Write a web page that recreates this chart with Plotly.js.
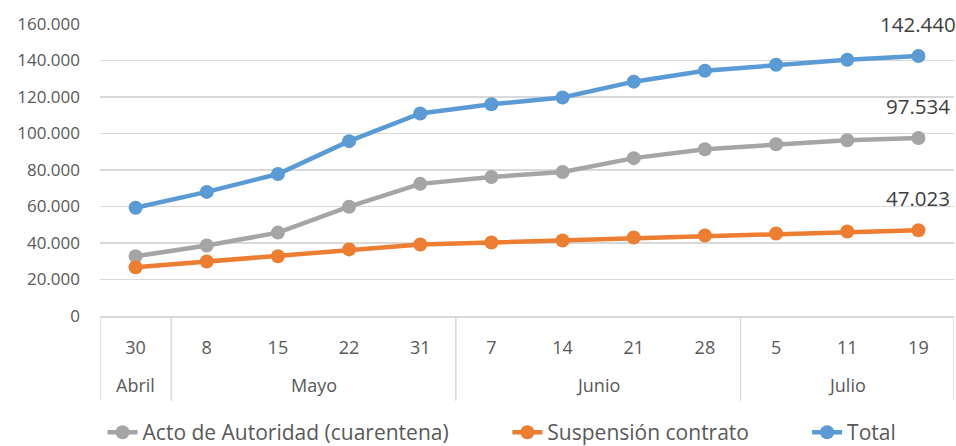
<!DOCTYPE html>
<html><head><meta charset="utf-8">
<script src="https://cdn.plot.ly/plotly-3.0.1.min.js"></script>
<style>html,body{margin:0;padding:0;background:#fff}#chart{width:956px;height:446px}</style>
</head><body><div id="chart"></div><script>
const months = ['Abril','Mayo','Mayo','Mayo','Mayo','Junio','Junio','Junio','Junio','Julio','Julio','Julio'];
const days = ['30','8','15','22','31','7','14','21','28','5','11','19'];
const acto = [32700, 38600, 45700, 59900, 72400, 76200, 78900, 86500, 91400, 94100, 96300, 97534];
const suspension = [26700, 29900, 32700, 36500, 39200, 40300, 41400, 43000, 44100, 45200, 46300, 47023];
const total = [59300, 68000, 77800, 95800, 111000, 116000, 119700, 128400, 134400, 137700, 140400, 142440];
const names = ['Acto de Autoridad (cuarentena)', 'Suspensión contrato', 'Total'];
const colors = ['#A5A5A5', '#ED7D31', '#5B9BD5'];

const FONT = 'Open Sans, Noto Sans, sans-serif';
const TXT = '#595959';
const GRID = '#D9D9D9';
const series = [acto, suspension, total];
const legendIds = ['legend', 'legend2', 'legend3'];
const legendX = [0.003, 0.477, 0.828];
const traces = series.map((s, i) => ({
  type: 'scatter', mode: 'lines+markers', name: names[i],
  x: days, y: s, legend: legendIds[i],
  line: {color: colors[i], width: 4.5},
  marker: {color: colors[i], size: 14},
  cliponaxis: false
}));

function fmt(v){ return Math.round(v).toString().replace(/\B(?=(\d{3})+(?!\d))/g, '.'); }
const last = days.length - 1;
const annotations = series.map((s, i) => ({
  x: last, y: s[last], xref: 'x', yref: 'y',
  text: fmt(s[last]), showarrow: false, yshift: 32, xshift: 0,
  font: {family: FONT, size: 20.5, color: '#404040'}
}));

// month groups (from months array)
const groups = [];
months.forEach((m, i) => {
  if (!groups.length || groups[groups.length - 1].name !== m) groups.push({name: m, start: i, end: i});
  else groups[groups.length - 1].end = i;
});
const DIV_BOTTOM = -0.29;
const shapes = [];
groups.forEach((g, k) => {
  annotations.push({
    x: (g.start + g.end) / 2, xref: 'x', y: -0.235, yref: 'paper', yanchor: 'middle',
    text: g.name, showarrow: false, font: {family: FONT, size: 18, color: TXT}
  });
  shapes.push({type: 'line', xref: 'x', yref: 'paper', x0: g.start - 0.5, x1: g.start - 0.5,
    y0: 0, y1: DIV_BOTTOM, line: {color: GRID, width: 1.5}});
});
shapes.push({type: 'line', xref: 'x', yref: 'paper', x0: last + 0.5, x1: last + 0.5,
  y0: 0, y1: DIV_BOTTOM, line: {color: GRID, width: 1.5}});

const layout = {
  width: 956, height: 446,
  margin: {l: 100, r: 2, t: 24, b: 130},
  paper_bgcolor: '#fff', plot_bgcolor: '#fff',
  separators: ',.',
  font: {family: FONT, size: 18, color: TXT},
  showlegend: true,
  xaxis: {type: 'category', range: [-0.5, last + 0.5], autorange: false,
    showline: true, linecolor: GRID, linewidth: 1.5, showgrid: false,
    ticks: 'outside', ticklen: 15, tickcolor: 'rgba(0,0,0,0)',
    tickfont: {family: FONT, size: 18, color: TXT}},
  yaxis: {range: [0, 160000], autorange: false, dtick: 20000, tickformat: ',d', showgrid: true, gridcolor: GRID,
    gridwidth: 1.5, zeroline: false, showline: false, ticks: '', ticklabelstandoff: 19,
    tickfont: {family: FONT, size: 17, color: TXT}},
  annotations: annotations,
  shapes: shapes
};
legendIds.forEach((id, i) => {
  layout[id] = {orientation: 'h', x: legendX[i], xanchor: 'left', yref: 'container', y: 0.03, yanchor: 'middle',
    font: {family: FONT, size: 21, color: TXT}, bgcolor: 'rgba(0,0,0,0)'};
});
Plotly.newPlot('chart', traces, layout, {displayModeBar: false, staticPlot: true});
</script></body></html>
